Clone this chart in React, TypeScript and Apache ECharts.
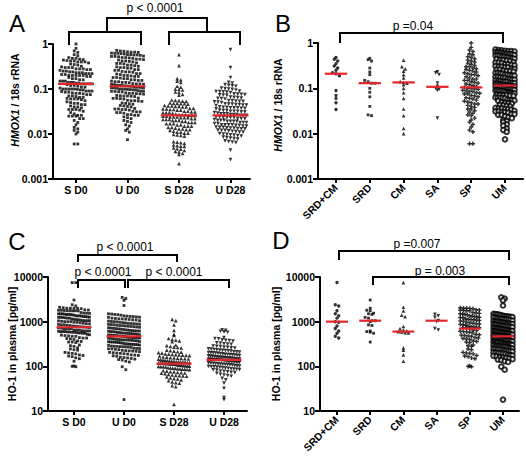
import React, { useEffect, useRef } from 'react';
import * as echarts from 'echarts';

const FONT = '"Liberation Sans", Arial, Helvetica, sans-serif';

// ---------- categories ----------
const catsTime = ['S D0', 'U D0', 'S D28', 'U D28'];
const catsGroup = ['SRD+CM', 'SRD', 'CM', 'SA', 'SP', 'UM'];

// ---------- HMOX1 / 18s rRNA (panels A, B) ----------
const hmoxSrdCm = [0.48, 0.44, 0.4, 0.35, 0.31, 0.28, 0.25, 0.22, 0.21, 0.19, 0.09, 0.07, 0.06, 0.048, 0.034];
const hmoxSrd = [0.46, 0.43, 0.4, 0.28, 0.23, 0.2, 0.15, 0.14, 0.13, 0.13, 0.1, 0.082, 0.065, 0.04, 0.026, 0.025];
const hmoxCm = [0.42, 0.3, 0.27, 0.24, 0.2, 0.17, 0.14, 0.135, 0.13, 0.12, 0.1, 0.08, 0.06, 0.035, 0.025, 0.013, 0.01];
const hmoxSa = [0.23, 0.22, 0.2, 0.13, 0.11, 0.1, 0.095, 0.09, 0.022];
const hmoxSp = [1.0, 0.8, 0.7, 0.65, 0.58, 0.55, 0.5, 0.48, 0.45, 0.42, 0.4, 0.38, 0.36, 0.34, 0.32, 0.3, 0.3, 0.28, 0.27,
  0.26, 0.25, 0.24, 0.23, 0.22, 0.21, 0.2, 0.2, 0.19, 0.18, 0.17, 0.16, 0.16, 0.15, 0.15, 0.14, 0.135, 0.13, 0.125, 0.12,
  0.115, 0.11, 0.105, 0.1, 0.1, 0.098, 0.095, 0.09, 0.088, 0.085, 0.085, 0.08, 0.078, 0.075, 0.075, 0.07, 0.068, 0.065,
  0.062, 0.06, 0.058, 0.055, 0.052, 0.05, 0.048, 0.045, 0.045, 0.042, 0.04, 0.038, 0.035, 0.035, 0.032, 0.03, 0.028,
  0.026, 0.025, 0.022, 0.02, 0.018, 0.016, 0.014, 0.012, 0.011, 0.006, 0.006];
const hmoxUm = [0.72, 0.7, 0.69, 0.67, 0.66, 0.66, 0.65, 0.63, 0.62, 0.62, 0.61, 0.6, 0.58, 0.58, 0.57, 0.57, 0.56,
  0.54, 0.53, 0.53, 0.52, 0.5, 0.5, 0.49, 0.48, 0.46, 0.46, 0.45, 0.44, 0.42, 0.42, 0.41, 0.4, 0.38, 0.37, 0.37, 0.36,
  0.34, 0.34, 0.33, 0.32, 0.31, 0.3, 0.3, 0.29, 0.29, 0.27, 0.27, 0.26, 0.26, 0.245, 0.24, 0.24, 0.235, 0.22, 0.22,
  0.215, 0.21, 0.2, 0.2, 0.195, 0.19, 0.19, 0.18, 0.18, 0.175, 0.17, 0.17, 0.16, 0.16, 0.155, 0.155, 0.15, 0.145,
  0.145, 0.14, 0.14, 0.138, 0.132, 0.13, 0.13, 0.128, 0.127, 0.125, 0.122, 0.12, 0.12, 0.118, 0.117, 0.116, 0.115,
  0.112, 0.11, 0.11, 0.108, 0.107, 0.106, 0.105, 0.104, 0.1, 0.1, 0.099, 0.098, 0.097, 0.096, 0.095, 0.092, 0.09,
  0.09, 0.089, 0.088, 0.087, 0.086, 0.082, 0.08, 0.08, 0.079, 0.078, 0.077, 0.072, 0.071, 0.07, 0.07, 0.069, 0.068,
  0.063, 0.062, 0.062, 0.061, 0.06, 0.056, 0.055, 0.055, 0.054, 0.053, 0.049, 0.048, 0.047, 0.046, 0.043, 0.042,
  0.041, 0.04, 0.037, 0.036, 0.036, 0.035, 0.035, 0.034, 0.032, 0.031, 0.031, 0.03, 0.03, 0.029, 0.027, 0.027, 0.026,
  0.026, 0.024, 0.023, 0.022, 0.02, 0.019, 0.018, 0.016, 0.015, 0.013, 0.012, 0.011, 0.0075];
const hmoxSD28 = [0.58, 0.33, 0.17, 0.16, 0.15, 0.14, 0.115, 0.11, 0.1, 0.098, 0.095, 0.086, 0.084, 0.076, 0.073,
  0.057, 0.056, 0.055, 0.054, 0.053, 0.049, 0.048, 0.048, 0.047, 0.047, 0.046, 0.043, 0.042, 0.042, 0.041, 0.041,
  0.04, 0.04, 0.037, 0.037, 0.036, 0.036, 0.035, 0.035, 0.034, 0.034, 0.032, 0.032, 0.031, 0.031, 0.03, 0.03, 0.03,
  0.029, 0.028, 0.027, 0.027, 0.027, 0.026, 0.026, 0.026, 0.025, 0.025, 0.024, 0.024, 0.024, 0.023, 0.023, 0.023,
  0.022, 0.022, 0.021, 0.021, 0.021, 0.02, 0.02, 0.02, 0.019, 0.019, 0.018, 0.018, 0.018, 0.017, 0.017, 0.017,
  0.016, 0.016, 0.015, 0.015, 0.015, 0.014, 0.014, 0.0135, 0.013, 0.013, 0.0125, 0.0125, 0.012, 0.0115, 0.011,
  0.011, 0.0105, 0.0105, 0.0098, 0.0095, 0.0093, 0.009, 0.0068, 0.0066, 0.0064, 0.0062, 0.0057, 0.0055, 0.0054,
  0.0053, 0.0049, 0.0047, 0.0046, 0.0043, 0.0041, 0.004, 0.0037, 0.0035, 0.0022];
const hmoxUD28 = [0.75, 0.3, 0.18, 0.14, 0.135, 0.125, 0.12, 0.118, 0.115, 0.105, 0.102, 0.1, 0.098, 0.095, 0.09,
  0.088, 0.087, 0.086, 0.085, 0.083, 0.078, 0.077, 0.076, 0.075, 0.074, 0.073, 0.072, 0.066, 0.065, 0.064, 0.063,
  0.062, 0.061, 0.06, 0.055, 0.055, 0.054, 0.053, 0.053, 0.052, 0.051, 0.05, 0.047, 0.046, 0.046, 0.045, 0.045,
  0.044, 0.044, 0.043, 0.04, 0.039, 0.039, 0.038, 0.038, 0.038, 0.037, 0.037, 0.036, 0.034, 0.033, 0.033, 0.032,
  0.032, 0.032, 0.031, 0.031, 0.03, 0.029, 0.028, 0.028, 0.028, 0.027, 0.027, 0.027, 0.026, 0.026, 0.026, 0.024,
  0.024, 0.023, 0.023, 0.023, 0.023, 0.022, 0.022, 0.022, 0.021, 0.02, 0.02, 0.02, 0.019, 0.019, 0.019, 0.019,
  0.018, 0.018, 0.018, 0.017, 0.017, 0.016, 0.016, 0.016, 0.016, 0.0155, 0.0155, 0.015, 0.015, 0.0142, 0.014,
  0.014, 0.0137, 0.0135, 0.0135, 0.0132, 0.013, 0.013, 0.0122, 0.012, 0.012, 0.0117, 0.0115, 0.0113, 0.011, 0.011,
  0.0102, 0.01, 0.0098, 0.0096, 0.0094, 0.0092, 0.009, 0.0085, 0.0083, 0.0081, 0.0079, 0.0077, 0.007, 0.0068,
  0.0066, 0.0064, 0.0044, 0.0027];
const hmoxMediansA = [0.13, 0.115, 0.026, 0.026];
const hmoxMediansB = [0.21, 0.13, 0.135, 0.108, 0.105, 0.115];

// ---------- HO-1 in plasma [pg/ml] (panels C, D) ----------
const hoSrdCm = [7500, 2400, 2250, 1750, 1500, 1350, 1200, 1000, 970, 800, 700, 620, 550, 470, 430];
const hoSrd = [3050, 2000, 1800, 1750, 1550, 1500, 1450, 1250, 1200, 1050, 1050, 1000, 850, 820, 620, 600, 580, 550, 350];
const hoCm = [7500, 2100, 1750, 1400, 1300, 780, 700, 650, 620, 600, 590, 570, 560, 260, 230, 180, 130];
const hoSa = [1450, 1350, 1250, 1050, 1000, 700, 650];
const hoSp = [2050, 2000, 2000, 1980, 1950, 1850, 1820, 1800, 1780, 1760, 1740, 1600, 1560, 1530, 1500, 1480, 1450,
  1420, 1350, 1330, 1300, 1280, 1260, 1240, 1220, 1150, 1130, 1110, 1100, 1080, 1060, 1040, 1020, 960, 940, 920, 900,
  890, 870, 850, 830, 790, 770, 760, 750, 740, 730, 720, 700, 650, 630, 610, 600, 590, 580, 560, 520, 510, 500, 490,
  480, 470, 440, 430, 420, 410, 400, 370, 360, 350, 340, 300, 290, 280, 245, 235, 205, 200, 195, 190, 175, 170, 165,
  155, 148, 102, 100, 98];
const hoUm = [3500, 3300, 3000, 2300, 1500, 1480, 1450, 1430, 1400, 1350, 1330, 1310, 1300, 1280, 1260, 1250, 1200,
  1180, 1160, 1150, 1140, 1120, 1100, 1090, 1050, 1030, 1010, 1000, 990, 970, 950, 940, 920, 910, 900, 890, 880, 870,
  860, 850, 830, 820, 810, 800, 790, 780, 770, 760, 750, 730, 720, 710, 700, 690, 680, 670, 660, 650, 640, 630, 625,
  620, 615, 610, 600, 595, 590, 575, 570, 560, 555, 550, 545, 540, 535, 530, 520, 510, 505, 500, 495, 490, 485, 480,
  475, 470, 465, 455, 450, 445, 440, 438, 435, 430, 425, 420, 415, 405, 400, 395, 392, 390, 388, 385, 380, 375, 370,
  360, 355, 352, 350, 348, 345, 340, 335, 330, 320, 318, 315, 312, 310, 308, 305, 300, 295, 285, 282, 280, 277, 275,
  272, 270, 265, 255, 252, 250, 247, 245, 240, 237, 228, 225, 222, 220, 217, 213, 205, 202, 198, 195, 192, 188, 180,
  178, 175, 172, 168, 160, 157, 154, 150, 145, 142, 138, 130, 125, 98, 84, 18];
const hoSD28 = [1120, 1050, 850, 640, 520, 490, 420, 400, 385, 370, 355, 300, 290, 280, 270, 265, 260, 230, 225, 218,
  212, 207, 202, 198, 190, 188, 185, 183, 180, 178, 176, 174, 172, 162, 160, 157, 155, 152, 150, 148, 146, 144, 142,
  138, 136, 135, 133, 131, 130, 128, 127, 126, 125, 124, 122, 121, 120, 119, 118, 117, 116, 115, 114, 113, 112, 111,
  108, 106, 105, 104, 103, 102, 101, 100, 99, 98, 97, 94, 92, 91, 90, 89, 88, 87, 86, 85, 84, 80, 78, 76, 75, 73, 72,
  71, 70, 69, 66, 64, 63, 62, 61, 60, 58, 55, 53, 52, 50, 48, 45, 43, 42, 37, 35, 14];
const hoUD28 = [660, 640, 610, 590, 580, 440, 420, 410, 390, 380, 375, 365, 335, 330, 320, 315, 310, 285, 280, 275,
  270, 265, 260, 255, 245, 242, 238, 235, 230, 227, 224, 221, 218, 212, 210, 207, 204, 202, 200, 198, 196, 193, 190,
  186, 184, 182, 180, 178, 176, 174, 172, 170, 168, 166, 163, 161, 159, 158, 156, 155, 153, 152, 150, 149, 148, 146,
  145, 144, 143, 142, 141, 140, 139, 138, 137, 136, 135, 132, 130, 129, 128, 127, 126, 125, 124, 123, 122, 120, 118,
  116, 115, 114, 112, 111, 110, 109, 108, 106, 104, 102, 101, 100, 98, 97, 96, 95, 93, 91, 90, 88, 87, 86, 84, 83,
  82, 78, 77, 75, 73, 72, 70, 66, 64, 62, 60, 54, 50, 42, 32, 20, 18];
const hoMediansC = [750, 470, 115, 140];
const hoMediansD = [1000, 1050, 600, 1050, 700, 470];

// ---------- layout ----------
type Panel = {
  grid: { left: number; top: number; width: number; height: number };
  logMin: number; logMax: number; xMin: number; xMax: number; catPx: number;
  rowH: number; dx: number; span: number; medHalf: number;
  cats: string[]; rotate: number;
};

const panels: Panel[] = [
  { grid: { left: 53, top: 44, width: 197, height: 135 }, logMin: -3, logMax: 0, xMin: -0.4466, xMax: 3.379, catPx: 51.5,
    rowH: 3.5, dx: 3.6, span: 32, medHalf: 0.35, cats: catsTime, rotate: 0 },
  { grid: { left: 318, top: 43, width: 205, height: 136 }, logMin: -3, logMax: 0, xMin: -0.5325, xMax: 5.5325, catPx: 33.8,
    rowH: 3.5, dx: 3.4, span: 19, medHalf: 0.33, cats: catsGroup, rotate: 45 },
  { grid: { left: 48, top: 277, width: 199, height: 134 }, logMin: 1, logMax: 4, xMin: -0.52, xMax: 3.46, catPx: 50,
    rowH: 3.5, dx: 3.6, span: 31, medHalf: 0.35, cats: catsTime, rotate: 0 },
  { grid: { left: 320, top: 277, width: 199, height: 134 }, logMin: 1, logMax: 4, xMin: -0.512, xMax: 5.482, catPx: 33.2,
    rowH: 3.5, dx: 3.4, span: 19, medHalf: 0.33, cats: catsGroup, rotate: 45 },
];

const panelGroups: number[][][] = [
  [[...hmoxSrdCm, ...hmoxSrd, ...hmoxCm, ...hmoxSa, ...hmoxSp], hmoxUm, hmoxSD28, hmoxUD28],
  [hmoxSrdCm, hmoxSrd, hmoxCm, hmoxSa, hmoxSp, hmoxUm],
  [[...hoSrdCm, ...hoSrd, ...hoCm, ...hoSa, ...hoSp], hoUm, hoSD28, hoUD28],
  [hoSrdCm, hoSrd, hoCm, hoSa, hoSp, hoUm],
];
const panelMedians = [hmoxMediansA, hmoxMediansB, hoMediansC, hoMediansD];

type Mark = { symbol: string; size: number; rotate?: number; empty?: boolean };
const SQ: Mark = { symbol: 'rect', size: 2.8 };
const TU: Mark = { symbol: 'triangle', size: 3.7 };
const TD: Mark = { symbol: 'triangle', size: 3.7, rotate: 180 };
const CI: Mark = { symbol: 'circle', size: 3.4 };
const PL: Mark = { symbol: 'path://M2,0H4V2H6V4H4V6H2V4H0V2H2Z', size: 4.2 };
const OC: Mark = { symbol: 'emptyCircle', size: 4.6, empty: true };
const panelMarks: Mark[][] = [
  [SQ, SQ, TU, TD],
  [CI, SQ, TU, TD, PL, OC],
  [SQ, SQ, TU, TD],
  [CI, SQ, TU, TD, PL, OC],
];

function swarm(values: number[], cat: number, p: Panel): number[][] {
  const rows = new Map<number, number[]>();
  const sorted = [...values].sort((a, b) => b - a);
  for (const v of sorted) {
    const px = ((p.logMax - Math.log10(v)) / (p.logMax - p.logMin)) * p.grid.height;
    const r = Math.round(px / p.rowH);
    if (!rows.has(r)) rows.set(r, []);
    rows.get(r)!.push(v);
  }
  const out: number[][] = [];
  rows.forEach((vs) => {
    const n = vs.length;
    const step = n > 1 ? Math.min(p.dx, p.span / (n - 1)) : 0;
    vs.forEach((v, k) => out.push([cat + ((k - (n - 1) / 2) * step) / p.catPx, v]));
  });
  return out;
}

const logFmt = (v: number) => {
  const e = Math.round(Math.log10(v));
  return e >= 0 ? String(Math.pow(10, e)) : Math.pow(10, e).toFixed(-e);
};

function bracket(pts: number[][]) {
  return { type: 'polyline', shape: { points: pts }, style: { stroke: '#000', lineWidth: 2, fill: 'none' }, silent: true };
}
function label(text: string, x: number, y: number, size = 12) {
  return { type: 'text', x, y, style: { text, fontSize: size, fontFamily: FONT, fill: '#000', align: 'center', verticalAlign: 'middle' }, silent: true };
}
function yTitle(text: string, x: number, y: number) {
  return {
    type: 'text', x, y, rotation: Math.PI / 2, silent: true,
    style: {
      text, fontSize: 10.5, fontWeight: 'bold', fontFamily: FONT, fill: '#000', align: 'center', verticalAlign: 'middle',
      rich: { i: { fontStyle: 'italic', fontWeight: 'bold', fontSize: 10.5, fontFamily: FONT, fill: '#000' } },
    },
  };
}

export default function App() {
  const ref = useRef<HTMLDivElement>(null);
  useEffect(() => {
    document.body.style.margin = '0';
    const chart = echarts.init(ref.current!, undefined, { renderer: 'svg' });
    const series: any[] = [];
    panels.forEach((p, pi) => {
      panelGroups[pi].forEach((vals, gi) => {
        const m = panelMarks[pi][gi];
        series.push({
          type: 'scatter', xAxisIndex: pi, yAxisIndex: pi, silent: true, z: 2,
          symbol: m.symbol, symbolSize: m.size, symbolRotate: m.rotate || 0,
          itemStyle: m.empty ? { color: '#000', borderColor: '#000', borderWidth: 1 } : { color: '#000' },
          data: swarm(vals, gi, p),
        });
        const med = panelMedians[pi][gi];
        series.push({
          type: 'line', xAxisIndex: pi, yAxisIndex: pi, silent: true, z: 5, symbol: 'none', showSymbol: false,
          lineStyle: { color: '#e3262c', width: 2.2 },
          data: [[gi - p.medHalf, med], [gi + p.medHalf, med]],
        });
      });
    });
    const idx = (n: number) => Array.from({ length: n }, (_, i) => i);
    const option: any = {
      animation: false,
      backgroundColor: '#fff',
      grid: panels.map((p) => ({ ...p.grid, containLabel: false })),
      xAxis: panels.map((p, pi) => ({
        type: 'value', gridIndex: pi, min: p.xMin, max: p.xMax,
        axisLine: { show: true, onZero: false, lineStyle: { color: '#000', width: 2 } },
        axisTick: { show: true, customValues: idx(p.cats.length), length: 4, lineStyle: { color: '#000', width: 2 } },
        axisLabel: {
          customValues: idx(p.cats.length), formatter: (v: number) => p.cats[Math.round(v)] || '',
          fontWeight: 'bold', fontSize: 10.5, fontFamily: FONT, color: '#000', margin: p.rotate ? 7 : 5, rotate: p.rotate,
        },
        splitLine: { show: false },
      })),
      yAxis: panels.map((p, pi) => ({
        type: 'log', logBase: 10, gridIndex: pi, min: Math.pow(10, p.logMin), max: Math.pow(10, p.logMax),
        axisLine: { show: true, onZero: false, lineStyle: { color: '#000', width: 2 } },
        axisTick: { show: true, length: 5, lineStyle: { color: '#000', width: 2 } },
        axisLabel: { formatter: logFmt, fontWeight: 'bold', fontSize: 10.5, fontFamily: FONT, color: '#000', margin: 5 },
        splitLine: { show: false },
        minorTick: { show: false },
      })),
      series,
      graphic: {
        elements: [
          label('A', 17, 23, 24), label('B', 283, 23, 24), label('C', 17, 241, 24), label('D', 281, 240, 24),
          yTitle('{i|HMOX1} / 18s rRNA', 15, 100),
          yTitle('{i|HMOX1} / 18s rRNA', 278, 105),
          yTitle('HO-1 in plasma [pg/ml]', 12, 344),
          yTitle('HO-1 in plasma [pg/ml]', 276, 344),
          // panel A
          label('p < 0.0001', 155, 8),
          bracket([[107, 32], [107, 18], [207, 18], [207, 32]]),
          bracket([[69, 45], [69, 32], [141, 32], [141, 45]]),
          bracket([[169, 45], [169, 32], [240, 32], [240, 45]]),
          // panel B
          label('p =0.04', 413, 26),
          bracket([[340, 43], [340, 33], [503, 33], [503, 43]]),
          // panel C
          label('p < 0.0001', 125, 247),
          bracket([[78, 262], [78, 255], [177, 255], [177, 262]]),
          label('p < 0.0001', 103, 272),
          bracket([[78, 288], [78, 280], [125, 280], [125, 288]]),
          label('p < 0.0001', 174, 272),
          bracket([[128, 288], [128, 280], [229, 280], [229, 288]]),
          // panel D
          label('p =0.007', 417, 244),
          bracket([[339, 260], [339, 251], [509, 251], [509, 260]]),
          label('p = 0.003', 440, 271),
          bracket([[373, 285], [373, 277], [509, 277], [509, 285]]),
        ],
      },
    };
    chart.setOption(option);
    return () => chart.dispose();
  }, []);
  return <div ref={ref} style={{ width: 526, height: 456 }} />;
}
